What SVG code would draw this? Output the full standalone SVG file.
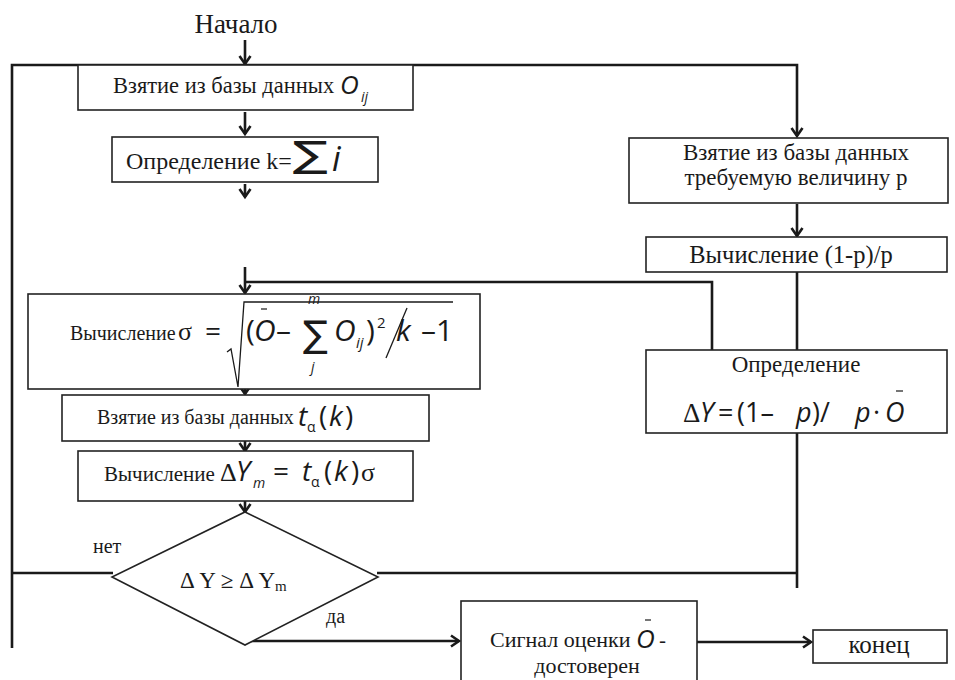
<svg xmlns="http://www.w3.org/2000/svg" width="955" height="680" viewBox="0 0 955 680">
<style>
.box{fill:#fff;stroke:#222;stroke-width:1.6}
.ln{fill:none;stroke:#1a1a1a;stroke-width:2.6}
.t{font-family:"Liberation Serif","Times New Roman",serif;fill:#1a1a1a}
.m{font-family:"Open Sans","DejaVu Sans",sans-serif;font-style:italic;fill:#1a1a1a}
.mu{font-family:"Open Sans","DejaVu Sans",sans-serif;fill:#1a1a1a}
.sg{font-family:"DejaVu Sans",sans-serif;fill:#1a1a1a}
.bar{stroke:#1a1a1a;stroke-width:1.2}
</style>
<defs>
<marker id="ah" markerUnits="userSpaceOnUse" markerWidth="20" markerHeight="20" refX="10" refY="10" orient="auto" viewBox="0 0 20 20">
<path d="M2,4.5 L10,10 L2,15.5" fill="none" stroke="#1a1a1a" stroke-width="2.6"/>
</marker>
</defs>
<rect width="955" height="680" fill="#fff"/>

<g id="start"><text class="t" x="236" y="33" text-anchor="middle" font-size="27">Начало</text></g>

<g id="connectors">
<path class="ln" d="M245,40 V64" marker-end="url(#ah)"/>
<path class="ln" d="M12,648 V65 H797 V136" marker-end="url(#ah)"/>
<path class="ln" d="M245,112 V134" marker-end="url(#ah)"/>
<path class="ln" d="M245,184 V197" marker-end="url(#ah)"/>
<path class="ln" d="M245,267 V293" marker-end="url(#ah)"/>
<path class="ln" d="M245,282 H712 V361" marker-end="url(#ah)"/>
<path class="ln" d="M245,382 V394" marker-end="url(#ah)"/>
<path class="ln" d="M245,441 V451" marker-end="url(#ah)"/>
<path class="ln" d="M245,501 V512" marker-end="url(#ah)"/>
<path class="ln" d="M797,204 V236" marker-end="url(#ah)"/>
<path class="ln" d="M797,272 V361" marker-end="url(#ah)"/>
<path class="ln" d="M797,433 V588"/>
<path class="ln" d="M12,573 H113"/>
<path class="ln" d="M377,573 H797"/>
<path class="ln" d="M250,641 H459" marker-end="url(#ah)"/>
<path class="ln" d="M697,642 H811" marker-end="url(#ah)"/>
</g>

<g id="n1">
<rect class="box" x="78" y="65" width="335" height="45"/>
<text class="t" x="113" y="93" font-size="22.5">Взятие из базы данных</text>
<text class="m" x="340" y="94" font-size="26">O</text>
<text class="m" x="361" y="102" font-size="14">ij</text>
</g>

<g id="n2">
<rect class="box" x="112" y="137" width="266" height="45"/>
<text class="t" x="126" y="169" font-size="24">Определение k=</text>
<text class="sg" transform="translate(293,167) scale(1.45,1)" font-size="36">∑</text>
<text class="m" x="332" y="171" font-size="34">i</text>
</g>

<g id="n3">
<rect class="box" x="629" y="138" width="319" height="65"/>
<text class="t" x="796" y="160" text-anchor="middle" font-size="23">Взятие из базы данных</text>
<text class="t" x="796" y="185" text-anchor="middle" font-size="23">требуемую величину р</text>
</g>

<g id="n4">
<rect class="box" x="646" y="237" width="301" height="35"/>
<text class="t" x="791" y="263" text-anchor="middle" font-size="24.5">Вычисление (1-р)/р</text>
</g>

<g id="n5">
<rect class="box" x="646" y="350" width="301" height="83"/>
<text class="t" x="796" y="372" text-anchor="middle" font-size="23">Определение</text>
<text class="t" x="683" y="422" font-size="27">Δ</text>
<text class="m" x="700" y="422" font-size="27">Y</text>
<text class="mu" x="718" y="422" font-size="27">=</text>
<text class="mu" x="737" y="422" font-size="27">(1–</text>
<text class="m" x="796" y="422" font-size="27">p</text>
<text class="mu" x="812" y="422" font-size="27">)/</text>
<text class="m" x="855" y="422" font-size="27">p</text>
<text class="mu" x="873" y="422" font-size="27">·</text>
<text class="m" x="885" y="422" font-size="27">O</text>
<path class="bar" d="M896,391 H903"/>
</g>

<g id="n6">
<rect class="box" x="28" y="294" width="452" height="95"/>
<text class="t" x="70" y="340" font-size="20">Вычисление</text>
<text class="t" x="178" y="340" font-size="26">σ</text>
<text class="mu" x="205" y="341" font-size="28">=</text>
<path d="M227,352 L231,349 L238,387 L244,302 H453" fill="none" stroke="#1a1a1a" stroke-width="1.3"/>
<text class="mu" x="246" y="341" font-size="30">(</text>
<text class="m" x="254" y="341" font-size="30">O</text>
<path class="bar" d="M261,309 H267"/>
<text class="mu" x="276" y="341" font-size="30">–</text>
<text class="sg" x="303" y="347" font-size="37">∑</text>
<text class="m" x="308" y="304" font-size="14">m</text>
<text class="m" x="311" y="372" font-size="14">j</text>
<text class="m" x="334" y="341" font-size="30">O</text>
<text class="m" x="356" y="348" font-size="15">ij</text>
<text class="mu" x="366" y="341" font-size="30">)</text>
<text class="mu" x="377" y="328" font-size="15">2</text>
<path d="M386,358 L407,308" stroke="#1a1a1a" stroke-width="1.3"/>
<text class="m" x="396" y="341" font-size="30">k</text>
<text class="mu" x="421" y="341" font-size="30">–1</text>
</g>

<g id="n7">
<rect class="box" x="62" y="395" width="367" height="46"/>
<text class="t" x="97" y="424" font-size="20">Взятие из базы данных</text>
<text class="m" x="298" y="426" font-size="28">t</text>
<text class="mu" x="307" y="432" font-size="14">α</text>
<text class="mu" x="319" y="426" font-size="28">(</text>
<text class="m" x="329" y="426" font-size="28">k</text>
<text class="mu" x="345" y="426" font-size="28">)</text>
</g>

<g id="n8">
<rect class="box" x="78" y="451" width="335" height="50"/>
<text class="t" x="104" y="481" font-size="21">Вычисление</text>
<text class="t" x="220" y="481" font-size="26">Δ</text>
<text class="m" x="236" y="481" font-size="28">Y</text>
<text class="m" x="253" y="488" font-size="14">m</text>
<text class="mu" x="273" y="481" font-size="28">=</text>
<text class="m" x="302" y="481" font-size="28">t</text>
<text class="mu" x="311" y="487" font-size="14">α</text>
<text class="mu" x="324" y="481" font-size="28">(</text>
<text class="m" x="334" y="481" font-size="28">k</text>
<text class="mu" x="351" y="481" font-size="28">)</text>
<text class="t" x="361" y="481" font-size="26">σ</text>
</g>

<g id="n9">
<polygon class="box" points="245,512 378,577 245,645 112,577"/>
<text class="t" x="180" y="588" font-size="23">Δ Y ≥ Δ Y<tspan font-size="15" dy="3">m</tspan></text>
<text class="t" x="93" y="553" font-size="20">нет</text>
<text class="t" x="326" y="623" font-size="20">да</text>
</g>

<g id="n10">
<rect class="box" x="461" y="601" width="236" height="84"/>
<text class="t" x="490" y="647" font-size="22">Сигнал оценки</text>
<text class="m" x="636" y="648" font-size="26">O</text>
<path class="bar" d="M645,620 H651"/>
<text class="mu" x="659" y="648" font-size="22">-</text>
<text class="t" x="587" y="673" text-anchor="middle" font-size="22">достоверен</text>
</g>

<g id="n11">
<rect class="box" x="813" y="630" width="134" height="33"/>
<text class="t" x="879" y="653" text-anchor="middle" font-size="25">конец</text>
</g>
</svg>
